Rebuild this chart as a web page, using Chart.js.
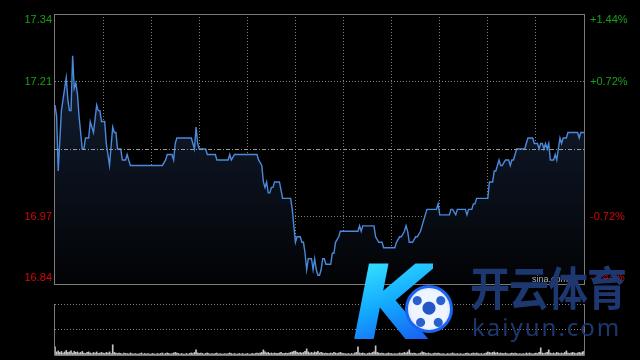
<!DOCTYPE html>
<html>
<head>
<meta charset="utf-8">
<script src="https://cdn.jsdelivr.net/npm/chart.js@4.4.0/dist/chart.umd.min.js"></script>
<style>
    html, body { margin: 0; padding: 0; background: #000; }
    #wrap { position: relative; width: 640px; height: 360px; overflow: hidden; background: #000; }
    #price { position: absolute; left: 0; top: 0; }
    #vol { position: absolute; left: 0; top: 290px; }
    .mark { position: absolute; white-space: nowrap; pointer-events: none; }
    .mark-k {
        left: 352px; top: 249px; font: italic bold 104px/108px "DejaVu Sans";
        background: linear-gradient(160deg, #39e6ff 10%, #12a8ff 50%, #1a55f0 90%);
        -webkit-background-clip: text; background-clip: text; color: transparent;
    }
    .mark-ball {
        left: 405px; top: 285px; width: 42px; height: 42px; border-radius: 50%;
        border: 3px solid #1b63f2;
        background: radial-gradient(circle at 50% 48%, #2456c8 0 6px, transparent 7px),
                    radial-gradient(circle at 22% 30%, #2a5fd0 0 4px, transparent 5px),
                    radial-gradient(circle at 78% 30%, #2a5fd0 0 4px, transparent 5px),
                    radial-gradient(circle at 30% 82%, #2a5fd0 0 4px, transparent 5px),
                    radial-gradient(circle at 72% 82%, #2a5fd0 0 4px, transparent 5px),
                    radial-gradient(circle, #eef5ff 0 60%, #a9c8ff 100%);
    }
    .mark-cn {
        left: 470px; top: 262px; font: bold 40px/40px "Noto Sans CJK SC"; letter-spacing: -1px;
        color: #1d3870; transform: scaleY(1.15); transform-origin: top left;
    }
    .mark-en {
        left: 472px; top: 314px; font: 24px/25px "Noto Sans"; letter-spacing: 2px; color: #1d3870;
    }
</style>
</head>
<body>
<div id="wrap">
    <canvas id="price" width="640" height="290"></canvas>
    <canvas id="vol" width="640" height="70"></canvas>
    <div class="mark mark-k">K</div>
    <div class="mark mark-ball"></div>
    <div class="mark mark-cn">开云体育</div>
    <div class="mark mark-en">kaiyun.com</div>
</div>
<script>
// minutes since open (09:30, lunch break removed), 330 = 16:00
const minutes = [
    0, 1, 2, 4, 6, 7, 8, 9, 10, 11,
    12, 13, 14, 15, 17, 18, 19, 21, 22, 24,
    26, 27, 28, 29, 31, 32, 34, 36, 37, 38,
    39, 41, 42, 44, 45, 47, 67, 69, 70, 73,
    74, 75, 76, 85, 87, 88, 89, 90, 94, 95,
    100, 101, 108, 109, 110, 112, 126, 127, 129, 130,
    131, 132, 133, 134, 135, 136, 137, 140, 142, 147,
    148, 149, 150, 151, 153, 154, 155, 156, 157, 158,
    160, 161, 162, 163, 164, 165, 166, 167, 168, 169,
    172, 173, 174, 175, 177, 178, 189, 190, 191, 192,
    199, 200, 202, 204, 205, 212, 213, 215, 216, 218,
    219, 220, 221, 223, 225, 226, 228, 232, 238, 239,
    240, 246, 247, 248, 250, 251, 256, 257, 258, 260,
    261, 262, 263, 270, 271, 273, 274, 275, 277, 278,
    279, 281, 283, 284, 285, 286, 287, 288, 293, 294,
    295, 298, 299, 301, 302, 303, 304, 305, 306, 307,
    308, 309, 311, 312, 313, 314, 315, 316, 317, 319,
    320, 326, 327, 328, 330
];

const prices = [
    17.17, 17.15, 17.05, 17.16, 17.20, 17.22, 17.18, 17.16, 17.16, 17.26,
    17.20, 17.21, 17.19, 17.15, 17.09, 17.09, 17.11, 17.11, 17.14, 17.12,
    17.17, 17.16, 17.16, 17.14, 17.14, 17.10, 17.06, 17.13, 17.12, 17.12,
    17.09, 17.09, 17.07, 17.07, 17.08, 17.06, 17.06, 17.07, 17.08, 17.08,
    17.07, 17.10, 17.11, 17.11, 17.09, 17.13, 17.10, 17.09, 17.09, 17.08,
    17.08, 17.07, 17.07, 17.08, 17.07, 17.08, 17.08, 17.07, 17.06, 17.03,
    17.02, 17.03, 17.01, 17.01, 17.02, 17.02, 17.03, 17.03, 17.00, 17.00,
    16.98, 16.95, 16.92, 16.93, 16.93, 16.92, 16.92, 16.90, 16.87, 16.89,
    16.89, 16.87, 16.89, 16.87, 16.86, 16.86, 16.87, 16.89, 16.89, 16.88,
    16.88, 16.90, 16.90, 16.92, 16.93, 16.94, 16.94, 16.95, 16.94, 16.95,
    16.95, 16.93, 16.92, 16.92, 16.91, 16.91, 16.92, 16.93, 16.93, 16.94,
    16.95, 16.94, 16.92, 16.92, 16.93, 16.93, 16.94, 16.98, 16.98, 16.99,
    16.97, 16.97, 16.98, 16.98, 16.97, 16.98, 16.98, 16.97, 16.98, 16.98,
    16.99, 16.99, 17.00, 17.00, 17.03, 17.03, 17.05, 17.05, 17.07, 17.06,
    17.06, 17.07, 17.07, 17.06, 17.07, 17.07, 17.08, 17.09, 17.09, 17.10,
    17.11, 17.11, 17.10, 17.10, 17.09, 17.10, 17.10, 17.09, 17.10, 17.09,
    17.10, 17.07, 17.07, 17.08, 17.07, 17.09, 17.11, 17.10, 17.11, 17.11,
    17.12, 17.12, 17.11, 17.12, 17.12
];

// one bar per minute, 0..330
const volumes = [
    16, 6, 8, 5, 7, 4, 6, 9, 5, 6, 8, 4, 7, 5, 6, 4, 5, 7, 4, 3, 5, 6, 4, 3, 5, 4, 6, 3, 4, 5,
    4, 3, 5, 4, 6, 3, 20, 5, 4, 3, 4, 3, 2, 4, 3, 3, 2, 4, 3, 2, 3, 2, 2, 3, 4, 2, 3, 2, 3, 2,
    2, 3, 2, 2, 3, 2, 3, 4, 2, 3, 4, 3, 2, 3, 4, 5, 4, 3, 2, 3, 2, 2, 3, 2, 3, 4, 3, 5, 10, 4,
    3, 4, 3, 2, 3, 4, 3, 2, 3, 2, 3, 4, 2, 3, 2, 2, 3, 2, 3, 4, 3, 2, 3, 2, 2, 3, 2, 3, 2, 2,
    3, 2, 2, 3, 2, 3, 4, 3, 4, 5, 10, 6, 4, 5, 3, 4, 3, 4, 3, 3, 4, 5, 3, 3, 4, 3, 4, 5, 6, 7,
    8, 5, 4, 5, 4, 5, 7, 12, 6, 4, 5, 4, 6, 5, 7, 4, 5, 4, 3, 4, 3, 3, 4, 3, 5, 4, 3, 4, 5, 4,
    3, 3, 2, 3, 2, 3, 2, 4, 5, 16, 4, 3, 4, 3, 2, 3, 4, 3, 5, 6, 18, 5, 4, 3, 4, 3, 2, 3, 4, 3,
    3, 2, 3, 2, 3, 4, 3, 4, 5, 4, 6, 10, 4, 3, 4, 3, 2, 3, 4, 6, 5, 4, 3, 4, 3, 2, 3, 4, 3, 4,
    3, 2, 3, 2, 2, 3, 2, 3, 4, 3, 2, 3, 2, 3, 2, 2, 3, 4, 3, 2, 3, 4, 3, 4, 3, 2, 3, 2, 3, 4,
    6, 5, 4, 5, 6, 4, 5, 3, 4, 3, 3, 4, 3, 2, 3, 4, 3, 4, 3, 2, 3, 2, 3, 2, 4, 3, 4, 3, 2, 3,
    4, 3, 5, 14, 4, 3, 4, 5, 10, 4, 3, 4, 3, 5, 4, 3, 4, 3, 5, 8, 4, 3, 4, 5, 4, 3, 4, 5, 4, 6,
    7
];

const prevClose   = 17.09;
const priceTicks  = [16.844, 16.967, 17.09, 17.213, 17.336];
const priceLabels = ['16.84', '16.97', '', '17.21', '17.34'];
const pctLabels   = ['-1.44%', '-0.72%', '', '+0.72%', '+1.44%'];
const volTicks    = [0, 50, 100];

const gridColor  = '#808080';
const frameColor = '#7a7a7a';
const upColor    = '#19a019';
const downColor  = '#d40808';

const pricePlugin = {
    id: 'priceFrame',
    afterDraw (chart)
    {
        const ctx  = chart.ctx;
        const area = chart.chartArea;
        const y    = chart.scales.y;

        ctx.save();

        const py = Math.round(y.getPixelForValue(prevClose)) + 0.5;
        ctx.strokeStyle = '#9a9a9a';
        ctx.lineWidth   = 1;
        ctx.setLineDash([4, 2, 1, 2]);
        ctx.beginPath();
        ctx.moveTo(area.left, py);
        ctx.lineTo(area.right, py);
        ctx.stroke();

        ctx.setLineDash([]);
        ctx.strokeStyle = frameColor;
        ctx.strokeRect(area.left - 0.5, area.top + 0.5, area.right - area.left + 1, area.bottom - area.top);

        ctx.font         = '11px "Liberation Sans", Arial, sans-serif';
        ctx.textBaseline = 'middle';
        const last = priceTicks.length - 1;
        for (let i = 0; i < priceTicks.length; ++i) {
            if (priceLabels[i] === '') {
                continue;
            }

            let ty = y.getPixelForValue(priceTicks[i]);
            if (i === 0) {
                ty -= 6;
            } else if (i === last) {
                ty += 6;
            }

            ctx.fillStyle = priceTicks[i] > prevClose ? upColor : downColor;
            ctx.textAlign = 'right';
            ctx.fillText(priceLabels[i], area.left - 3, ty);
            ctx.textAlign = 'left';
            ctx.fillText(pctLabels[i], area.right + 6, ty);
        }

        ctx.font         = '9px "Liberation Sans", Arial, sans-serif';
        ctx.fillStyle    = '#b0b0b0';
        ctx.textAlign    = 'left';
        ctx.textBaseline = 'alphabetic';
        ctx.fillText('sina.com', area.right - 52, area.bottom - 2);

        ctx.restore();
    }
};

const volPlugin = {
    id: 'volFrame',
    afterDraw (chart)
    {
        const ctx  = chart.ctx;
        const area = chart.chartArea;

        ctx.save();
        ctx.strokeStyle = frameColor;
        ctx.lineWidth   = 1;
        ctx.beginPath();
        ctx.moveTo(area.left - 0.5, area.top);
        ctx.lineTo(area.left - 0.5, area.bottom + 0.5);
        ctx.lineTo(area.right + 0.5, area.bottom + 0.5);
        ctx.lineTo(area.right + 0.5, area.top);
        ctx.stroke();
        ctx.restore();
    }
};

const fillGradient = (context) => {
    const chart = context.chart;
    const area  = chart.chartArea;
    if (!area) {
        return 'rgba(0, 0, 0, 0)';
    }

    const g = chart.ctx.createLinearGradient(0, area.top, 0, area.bottom);
    g.addColorStop(0, '#17253d');
    g.addColorStop(1, '#020305');

    return g;
};

new Chart(document.getElementById('price'), {
    type: 'line',
    data: {
        datasets: [{
            data: minutes.map((m, i) => ({ x: m, y: prices[i] })),
            borderColor: '#4a89dc',
            borderWidth: 1.4,
            backgroundColor: fillGradient,
            fill: 'start',
            pointRadius: 0,
            tension: 0
        }]
    },
    options: {
        responsive: false,
        animation: false,
        events: [],
        layout: { padding: { left: 55, right: 56, top: 14, bottom: 6 } },
        plugins: { legend: { display: false }, tooltip: { enabled: false } },
        scales: {
            x: {
                type: 'linear',
                min: 0,
                max: 330,
                z: 1,
                afterFit (s) { s.height = 0; },
                ticks: { display: false, stepSize: 30 },
                grid: {
                    drawTicks: false,
                    color: (c) => (c.tick && (c.tick.value === 0 || c.tick.value === 330) ? 'rgba(0,0,0,0)' : gridColor)
                },
                border: { display: false, dash: [1, 2] }
            },
            y: {
                min: priceTicks[0],
                max: priceTicks[priceTicks.length - 1],
                z: 1,
                afterBuildTicks (s) { s.ticks = priceTicks.map((v) => ({ value: v })); },
                afterFit (s) { s.width = 0; },
                ticks: { display: false },
                grid: {
                    drawTicks: false,
                    color: (c) => (c.index === 1 || c.index === 3 ? gridColor : 'rgba(0,0,0,0)')
                },
                border: { display: false, dash: [1, 2] }
            }
        }
    },
    plugins: [pricePlugin]
});

new Chart(document.getElementById('vol'), {
    type: 'bar',
    data: {
        datasets: [{
            data: volumes.map((v, i) => ({ x: i, y: v })),
            backgroundColor: '#c4c4c4',
            barThickness: 1
        }]
    },
    options: {
        responsive: false,
        animation: false,
        events: [],
        layout: { padding: { left: 55, right: 56, top: 14, bottom: 5 } },
        plugins: { legend: { display: false }, tooltip: { enabled: false } },
        scales: {
            x: {
                type: 'linear',
                min: 0,
                max: 330,
                offset: false,
                afterFit (s) { s.height = 0; },
                ticks: { display: false },
                grid: { display: false },
                border: { display: false }
            },
            y: {
                min: volTicks[0],
                max: volTicks[volTicks.length - 1],
                afterBuildTicks (s) { s.ticks = volTicks.map((v) => ({ value: v })); },
                afterFit (s) { s.width = 0; },
                ticks: { display: false },
                grid: {
                    drawTicks: false,
                    color: (c) => (c.index === 0 ? 'rgba(0,0,0,0)' : gridColor)
                },
                border: { display: false, dash: [1, 2] }
            }
        }
    },
    plugins: [volPlugin]
});
</script>
</body>
</html>
